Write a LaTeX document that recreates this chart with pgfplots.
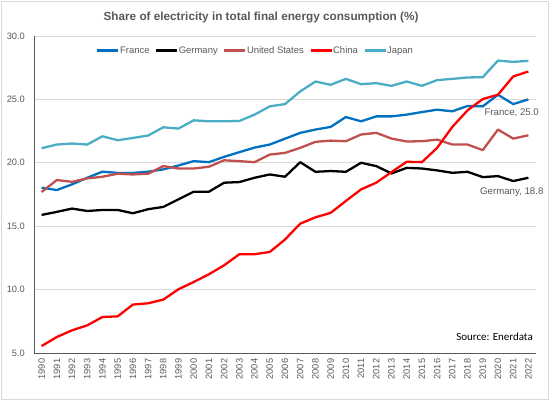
\documentclass[border=0pt]{standalone}
\usepackage{pgfplots}
\pgfplotsset{compat=1.18}
\usepackage{pgfplotstable}
\usepackage{fontspec}
\setmainfont{Liberation Sans}
\newfontfamily\calibri{Carlito}
\definecolor{frC}{HTML}{0070C0}
\definecolor{usC}{HTML}{C0504D}
\definecolor{cnC}{HTML}{FF0000}
\definecolor{jpC}{HTML}{4BACC6}
\definecolor{txt}{HTML}{595959}
\definecolor{grd}{HTML}{D9D9D9}
\pgfplotstableread{
year France Germany US China Japan
1990 18.04 15.89 17.70 5.55 21.15
1991 17.85 16.13 18.64 6.26 21.44
1992 18.30 16.39 18.50 6.79 21.52
1993 18.82 16.20 18.77 7.18 21.44
1994 19.30 16.28 18.90 7.84 22.09
1995 19.20 16.28 19.14 7.89 21.78
1996 19.20 16.02 19.08 8.82 21.96
1997 19.30 16.34 19.14 8.92 22.15
1998 19.48 16.52 19.74 9.21 22.80
1999 19.79 17.12 19.55 10.03 22.70
2000 20.13 17.72 19.55 10.60 23.35
2001 20.05 17.72 19.69 11.21 23.27
2002 20.47 18.43 20.20 11.92 23.27
2003 20.84 18.48 20.13 12.79 23.30
2004 21.20 18.82 20.05 12.79 23.80
2005 21.44 19.08 20.65 12.97 24.45
2006 21.90 18.90 20.78 13.95 24.63
2007 22.36 20.05 21.18 15.20 25.63
2008 22.62 19.29 21.65 15.70 26.41
2009 22.83 19.35 21.75 16.05 26.15
2010 23.61 19.29 21.70 16.99 26.62
2011 23.27 20.00 22.23 17.90 26.20
2012 23.66 19.74 22.36 18.43 26.28
2013 23.66 19.16 21.91 19.27 26.07
2014 23.80 19.60 21.68 20.08 26.41
2015 24.00 19.55 21.70 20.05 26.07
2016 24.19 19.40 21.83 21.18 26.52
2017 24.06 19.21 21.44 22.83 26.62
2018 24.48 19.29 21.44 24.14 26.73
2019 24.45 18.87 21.00 25.03 26.75
2020 25.37 18.95 22.62 25.37 28.06
2021 24.63 18.56 21.91 26.81 27.96
2022 25.00 18.82 22.17 27.20 28.04
}\datatable
\begin{document}
\begin{tikzpicture}
\path[use as bounding box] (0,0) rectangle (549bp,400bp);
\draw[grd, line width=0.8pt] (1bp,1bp) rectangle (548bp,399bp);
\node[font=\fontsize{11.8}{14}\selectfont\bfseries, text=txt] at (261bp,383bp) {Share of electricity in total final energy consumption (\%)};
\begin{axis}[
  at={(34bp,47bp)}, anchor=south west,
  width=502bp, height=317bp, scale only axis,
  xmin=1989.5, xmax=2022.5,
  ymin=5, ymax=30,
  clip=false,
  axis lines=left,
  axis line style={-, draw=txt, line width=0.8pt},
  xtick={1990,...,2022},
  ytick={5,10,15,20,25,30},
  major tick length=0pt,
  ymajorgrids,
  grid style={grd, line width=0.7pt},
  /pgf/number format/assume math mode=true,
  xticklabel style={rotate=90, anchor=east, font=\fontsize{9.3}{10}\selectfont, text=txt, /pgf/number format/1000 sep={}, inner xsep=5.5bp, inner ysep=0bp},
  yticklabel style={font=\fontsize{9.3}{10}\selectfont, text=txt, /pgf/number format/fixed, /pgf/number format/fixed zerofill, /pgf/number format/precision=1, inner sep=0bp, xshift=-9bp},
  legend columns=5,
  legend style={at={(rel axis cs:0.44,0.954)}, anchor=center, draw=none, fill=none,
    font=\fontsize{9.5}{11}\selectfont, text=txt, nodes={inner sep=0.5bp},
    /tikz/every even column/.append style={column sep=5bp}},
  legend image code/.code={\draw[#1] (0bp,0bp) -- (21bp,0bp);},
  every axis plot/.append style={line width=2.3pt, line join=round, mark=none},
]
\addplot[frC] table[x=year, y=France] {\datatable};
\addlegendentry{France}
\addplot[black] table[x=year, y=Germany] {\datatable};
\addlegendentry{Germany}
\addplot[usC] table[x=year, y=US] {\datatable};
\addlegendentry{United States}
\addplot[cnC] table[x=year, y=China] {\datatable};
\addlegendentry{China}
\addplot[jpC] table[x=year, y=Japan] {\datatable};
\addlegendentry{Japan}
\node[anchor=east, font=\fontsize{9.7}{11}\selectfont, text=txt, inner sep=0pt] at (axis cs:2022.7,23.93) {France, 25.0};
\node[anchor=east, font=\fontsize{9.7}{11}\selectfont, text=txt, inner sep=0pt] at (axis cs:2023.0,17.7) {Germany, 18.8};
\node[anchor=east, font=\calibri\fontsize{11}{13}\selectfont, text=black, inner sep=0pt] at (axis cs:2022.3,6.26) {Source: Enerdata};
\end{axis}
\end{tikzpicture}
\end{document}
